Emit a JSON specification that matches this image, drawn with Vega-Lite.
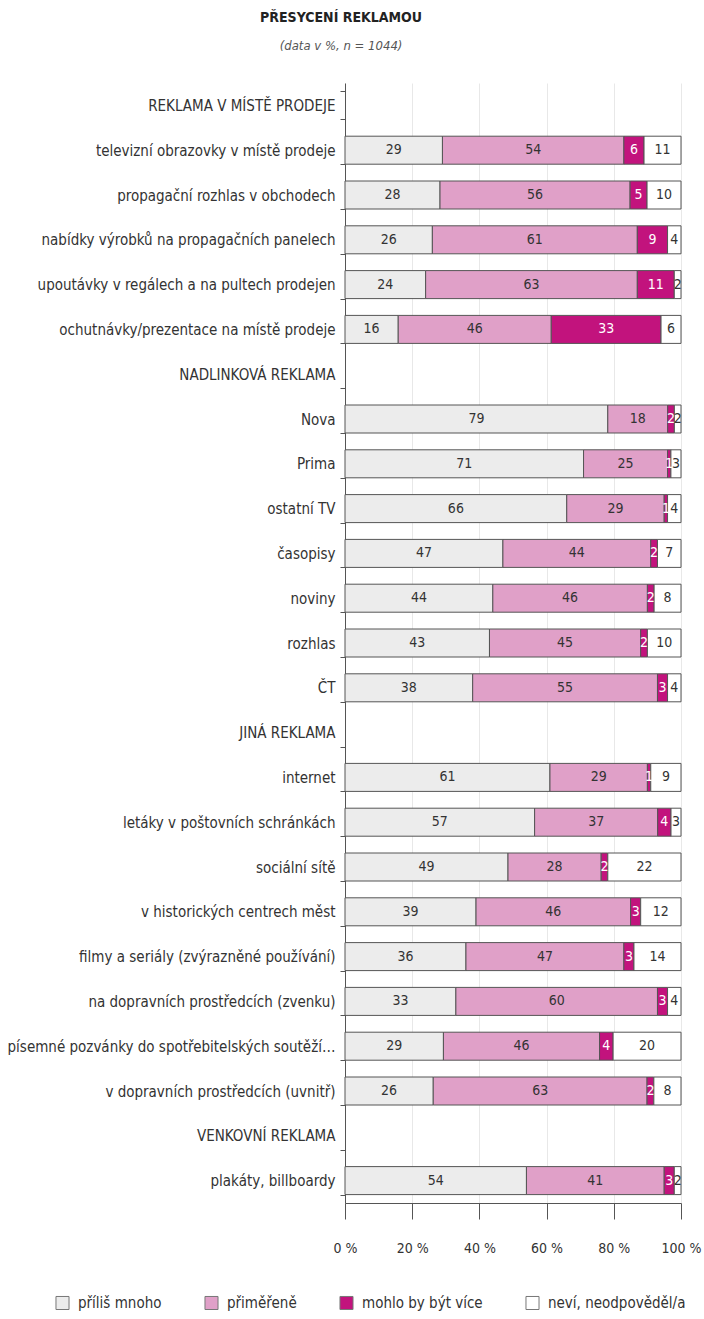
{
  "$schema": "https://vega.github.io/schema/vega-lite/v6.json",
  "width": 336,
  "height": 1120,
  "autosize": "none",
  "padding": {"left": 345, "top": 83, "right": 23, "bottom": 116},
  "title": {
    "text": "PŘESYCENÍ REKLAMOU",
    "subtitle": "(data v %, n = 1044)",
    "fontSize": 14,
    "fontWeight": "bold",
    "color": "#222",
    "subtitleFontStyle": "italic",
    "subtitleFontSize": 13,
    "subtitleColor": "#555",
    "subtitlePadding": 15,
    "anchor": "middle",
    "frame": "bounds",
    "dx": -13,
    "offset": 23
  },
  "data": {
    "values": [
      {"c": "televizní obrazovky v místě prodeje", "k": "příliš mnoho", "o": 1, "v": 29},
      {"c": "televizní obrazovky v místě prodeje", "k": "přiměřeně", "o": 2, "v": 54},
      {"c": "televizní obrazovky v místě prodeje", "k": "mohlo by být více", "o": 3, "v": 6},
      {"c": "televizní obrazovky v místě prodeje", "k": "neví, neodpověděl/a", "o": 4, "v": 11},
      {"c": "propagační rozhlas v obchodech", "k": "příliš mnoho", "o": 1, "v": 28},
      {"c": "propagační rozhlas v obchodech", "k": "přiměřeně", "o": 2, "v": 56},
      {"c": "propagační rozhlas v obchodech", "k": "mohlo by být více", "o": 3, "v": 5},
      {"c": "propagační rozhlas v obchodech", "k": "neví, neodpověděl/a", "o": 4, "v": 10},
      {"c": "nabídky výrobků na propagačních panelech", "k": "příliš mnoho", "o": 1, "v": 26},
      {"c": "nabídky výrobků na propagačních panelech", "k": "přiměřeně", "o": 2, "v": 61},
      {"c": "nabídky výrobků na propagačních panelech", "k": "mohlo by být více", "o": 3, "v": 9},
      {"c": "nabídky výrobků na propagačních panelech", "k": "neví, neodpověděl/a", "o": 4, "v": 4},
      {"c": "upoutávky v regálech a na pultech prodejen", "k": "příliš mnoho", "o": 1, "v": 24},
      {"c": "upoutávky v regálech a na pultech prodejen", "k": "přiměřeně", "o": 2, "v": 63},
      {"c": "upoutávky v regálech a na pultech prodejen", "k": "mohlo by být více", "o": 3, "v": 11},
      {"c": "upoutávky v regálech a na pultech prodejen", "k": "neví, neodpověděl/a", "o": 4, "v": 2},
      {"c": "ochutnávky/prezentace na místě prodeje", "k": "příliš mnoho", "o": 1, "v": 16},
      {"c": "ochutnávky/prezentace na místě prodeje", "k": "přiměřeně", "o": 2, "v": 46},
      {"c": "ochutnávky/prezentace na místě prodeje", "k": "mohlo by být více", "o": 3, "v": 33},
      {"c": "ochutnávky/prezentace na místě prodeje", "k": "neví, neodpověděl/a", "o": 4, "v": 6},
      {"c": "Nova", "k": "příliš mnoho", "o": 1, "v": 79},
      {"c": "Nova", "k": "přiměřeně", "o": 2, "v": 18},
      {"c": "Nova", "k": "mohlo by být více", "o": 3, "v": 2},
      {"c": "Nova", "k": "neví, neodpověděl/a", "o": 4, "v": 2},
      {"c": "Prima", "k": "příliš mnoho", "o": 1, "v": 71},
      {"c": "Prima", "k": "přiměřeně", "o": 2, "v": 25},
      {"c": "Prima", "k": "mohlo by být více", "o": 3, "v": 1},
      {"c": "Prima", "k": "neví, neodpověděl/a", "o": 4, "v": 3},
      {"c": "ostatní TV", "k": "příliš mnoho", "o": 1, "v": 66},
      {"c": "ostatní TV", "k": "přiměřeně", "o": 2, "v": 29},
      {"c": "ostatní TV", "k": "mohlo by být více", "o": 3, "v": 1},
      {"c": "ostatní TV", "k": "neví, neodpověděl/a", "o": 4, "v": 4},
      {"c": "časopisy", "k": "příliš mnoho", "o": 1, "v": 47},
      {"c": "časopisy", "k": "přiměřeně", "o": 2, "v": 44},
      {"c": "časopisy", "k": "mohlo by být více", "o": 3, "v": 2},
      {"c": "časopisy", "k": "neví, neodpověděl/a", "o": 4, "v": 7},
      {"c": "noviny", "k": "příliš mnoho", "o": 1, "v": 44},
      {"c": "noviny", "k": "přiměřeně", "o": 2, "v": 46},
      {"c": "noviny", "k": "mohlo by být více", "o": 3, "v": 2},
      {"c": "noviny", "k": "neví, neodpověděl/a", "o": 4, "v": 8},
      {"c": "rozhlas", "k": "příliš mnoho", "o": 1, "v": 43},
      {"c": "rozhlas", "k": "přiměřeně", "o": 2, "v": 45},
      {"c": "rozhlas", "k": "mohlo by být více", "o": 3, "v": 2},
      {"c": "rozhlas", "k": "neví, neodpověděl/a", "o": 4, "v": 10},
      {"c": "ČT", "k": "příliš mnoho", "o": 1, "v": 38},
      {"c": "ČT", "k": "přiměřeně", "o": 2, "v": 55},
      {"c": "ČT", "k": "mohlo by být více", "o": 3, "v": 3},
      {"c": "ČT", "k": "neví, neodpověděl/a", "o": 4, "v": 4},
      {"c": "internet", "k": "příliš mnoho", "o": 1, "v": 61},
      {"c": "internet", "k": "přiměřeně", "o": 2, "v": 29},
      {"c": "internet", "k": "mohlo by být více", "o": 3, "v": 1},
      {"c": "internet", "k": "neví, neodpověděl/a", "o": 4, "v": 9},
      {"c": "letáky v poštovních schránkách", "k": "příliš mnoho", "o": 1, "v": 57},
      {"c": "letáky v poštovních schránkách", "k": "přiměřeně", "o": 2, "v": 37},
      {"c": "letáky v poštovních schránkách", "k": "mohlo by být více", "o": 3, "v": 4},
      {"c": "letáky v poštovních schránkách", "k": "neví, neodpověděl/a", "o": 4, "v": 3},
      {"c": "sociální sítě", "k": "příliš mnoho", "o": 1, "v": 49},
      {"c": "sociální sítě", "k": "přiměřeně", "o": 2, "v": 28},
      {"c": "sociální sítě", "k": "mohlo by být více", "o": 3, "v": 2},
      {"c": "sociální sítě", "k": "neví, neodpověděl/a", "o": 4, "v": 22},
      {"c": "v historických centrech měst", "k": "příliš mnoho", "o": 1, "v": 39},
      {"c": "v historických centrech měst", "k": "přiměřeně", "o": 2, "v": 46},
      {"c": "v historických centrech měst", "k": "mohlo by být více", "o": 3, "v": 3},
      {"c": "v historických centrech měst", "k": "neví, neodpověděl/a", "o": 4, "v": 12},
      {"c": "filmy a seriály (zvýrazněné používání)", "k": "příliš mnoho", "o": 1, "v": 36},
      {"c": "filmy a seriály (zvýrazněné používání)", "k": "přiměřeně", "o": 2, "v": 47},
      {"c": "filmy a seriály (zvýrazněné používání)", "k": "mohlo by být více", "o": 3, "v": 3},
      {"c": "filmy a seriály (zvýrazněné používání)", "k": "neví, neodpověděl/a", "o": 4, "v": 14},
      {"c": "na dopravních prostředcích (zvenku)", "k": "příliš mnoho", "o": 1, "v": 33},
      {"c": "na dopravních prostředcích (zvenku)", "k": "přiměřeně", "o": 2, "v": 60},
      {"c": "na dopravních prostředcích (zvenku)", "k": "mohlo by být více", "o": 3, "v": 3},
      {"c": "na dopravních prostředcích (zvenku)", "k": "neví, neodpověděl/a", "o": 4, "v": 4},
      {"c": "písemné pozvánky do spotřebitelských soutěží…", "k": "příliš mnoho", "o": 1, "v": 29},
      {"c": "písemné pozvánky do spotřebitelských soutěží…", "k": "přiměřeně", "o": 2, "v": 46},
      {"c": "písemné pozvánky do spotřebitelských soutěží…", "k": "mohlo by být více", "o": 3, "v": 4},
      {"c": "písemné pozvánky do spotřebitelských soutěží…", "k": "neví, neodpověděl/a", "o": 4, "v": 20},
      {"c": "v dopravních prostředcích (uvnitř)", "k": "příliš mnoho", "o": 1, "v": 26},
      {"c": "v dopravních prostředcích (uvnitř)", "k": "přiměřeně", "o": 2, "v": 63},
      {"c": "v dopravních prostředcích (uvnitř)", "k": "mohlo by být více", "o": 3, "v": 2},
      {"c": "v dopravních prostředcích (uvnitř)", "k": "neví, neodpověděl/a", "o": 4, "v": 8},
      {"c": "plakáty, billboardy", "k": "příliš mnoho", "o": 1, "v": 54},
      {"c": "plakáty, billboardy", "k": "přiměřeně", "o": 2, "v": 41},
      {"c": "plakáty, billboardy", "k": "mohlo by být více", "o": 3, "v": 3},
      {"c": "plakáty, billboardy", "k": "neví, neodpověděl/a", "o": 4, "v": 2}
    ]
  },
  "encoding": {
    "y": {
      "field": "c",
      "type": "nominal",
      "scale": {
        "domain": [
          "REKLAMA V MÍSTĚ PRODEJE",
          "televizní obrazovky v místě prodeje",
          "propagační rozhlas v obchodech",
          "nabídky výrobků na propagačních panelech",
          "upoutávky v regálech a na pultech prodejen",
          "ochutnávky/prezentace na místě prodeje",
          "NADLINKOVÁ REKLAMA",
          "Nova",
          "Prima",
          "ostatní TV",
          "časopisy",
          "noviny",
          "rozhlas",
          "ČT",
          "JINÁ REKLAMA",
          "internet",
          "letáky v poštovních schránkách",
          "sociální sítě",
          "v historických centrech měst",
          "filmy a seriály (zvýrazněné používání)",
          "na dopravních prostředcích (zvenku)",
          "písemné pozvánky do spotřebitelských soutěží…",
          "v dopravních prostředcích (uvnitř)",
          "VENKOVNÍ REKLAMA",
          "plakáty, billboardy"
        ],
        "paddingInner": 0.375,
        "paddingOuter": 0.1875
      },
      "axis": {
        "title": null,
        "tickBand": "extent",
        "tickSize": 5,
        "labelPadding": 5,
        "labelFontSize": 15,
        "labelColor": "#333",
        "labelLimit": 345,
        "domainColor": "#555",
        "tickColor": "#555",
        "grid": false
      }
    },
    "x": {
      "field": "v",
      "type": "quantitative",
      "stack": "normalize",
      "scale": {"domain": [0, 1], "nice": false},
      "axis": {
        "title": null,
        "values": [0, 0.2, 0.4, 0.6, 0.8, 1],
        "labelExpr": "format(datum.value * 100, 'd') + ' %'",
        "labelFlush": false,
        "tickSize": 16,
        "labelPadding": 22,
        "labelFontSize": 14,
        "labelColor": "#333",
        "domainColor": "#555",
        "tickColor": "#555",
        "grid": true,
        "gridColor": "#e8e8e8"
      }
    },
    "order": {"field": "o", "type": "quantitative"}
  },
  "layer": [
    {
      "mark": {"type": "bar", "stroke": "#555", "strokeWidth": 1},
      "encoding": {
        "color": {
          "field": "k",
          "type": "nominal",
          "scale": {
            "domain": ["příliš mnoho", "přiměřeně", "mohlo by být více", "neví, neodpověděl/a"],
            "range": ["#ececec", "#e0a0c8", "#c2137d", "#ffffff"]
          },
          "legend": {
            "title": null,
            "orient": "none",
            "legendX": -290,
            "legendY": 1212,
            "direction": "horizontal",
            "symbolType": "square",
            "symbolSize": 170,
            "symbolStrokeColor": "#777",
            "symbolStrokeWidth": 1,
            "labelFontSize": 15,
            "labelColor": "#333",
            "labelOffset": 8,
            "columnPadding": 40
          }
        }
      }
    },
    {
      "mark": {"type": "text", "fontSize": 14},
      "encoding": {
        "x": {"field": "v", "type": "quantitative", "stack": "normalize", "bandPosition": 0.5},
        "text": {"field": "v", "type": "quantitative"},
        "color": {
          "condition": {"test": "datum.k === 'mohlo by být více'", "value": "#ffffff"},
          "value": "#333"
        }
      }
    }
  ],
  "config": {
    "font": "DejaVu Sans Condensed, Liberation Sans, sans-serif",
    "view": {"stroke": null}
  }
}
